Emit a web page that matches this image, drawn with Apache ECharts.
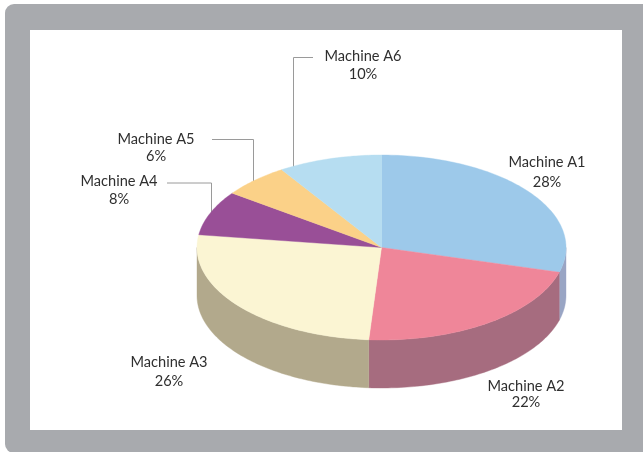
<!DOCTYPE html>
<html>
<head>
<meta charset="utf-8">
<style>html,body{margin:0;padding:0;background:#fff}#c{width:643px;height:452px}</style>
<script src="https://cdn.jsdelivr.net/npm/echarts@6/dist/echarts.min.js"></script>
</head>
<body>
<div id="c"></div>
<script>
// Data
const categories = ['Machine A1', 'Machine A2', 'Machine A3', 'Machine A4', 'Machine A5', 'Machine A6'];
// Percentages printed on the labels
const labelPercents = [28, 22, 26, 8, 6, 10];
// Slice shares as actually drawn in the picture (%), read from the rim positions
const drawnShares = [29.3, 21.8, 26.1, 7.8, 5.9, 9.1];

// Style
const topColors = ['#9DC9EA', '#EF8699', '#FBF5D3', '#994F97', '#FBD188', '#B6DDF1'];
const sideColors = ['#99A5C4', '#A66C7F', '#B2A98C', '#6E3A6C', '#B59560', '#85A0AE'];

// Layout
const pie = { cx: 381.5, cy: 247.5, rx: 184.5, ry: 92.5, depth: 48 };
const labelPlaces = [
  [547, 162, 182], [526, 386, 402], [169, 362, 381],
  [119, 181, 199], [156, 139, 156], [363, 56, 74]
];
const leaders = [
  [[167, 183], [211.5, 183], [211.5, 212]],
  [[212, 139.5], [253.5, 139.5], [253.5, 182]],
  [[313, 57.5], [293.5, 57.5], [293.5, 167]]
];
const labelFont = '14.6px Lato';

const total = drawnShares.reduce((a, b) => a + b, 0);
const starts = [];
drawnShares.reduce((acc, v, i) => { starts[i] = acc; return acc + v; }, 0);

function rim(deg, dy) {
  const t = deg * Math.PI / 180;
  return [pie.cx + pie.rx * Math.sin(t), pie.cy - pie.ry * Math.cos(t) + (dy || 0)];
}
function arcPoints(a, b, dy) {
  const pts = [];
  const n = Math.max(2, Math.ceil(Math.abs(b - a)));
  for (let i = 0; i <= n; i++) pts.push(rim(a + (b - a) * i / n, dy));
  return pts;
}

function renderSlice(params, api) {
  const i = params.dataIndex;
  const a = api.value(0) / total * 360;
  const b = a + api.value(1) / total * 360;
  const children = [];
  const sa = Math.max(a, 90), sb = Math.min(b, 270);
  if (sb > sa) {
    const pts = arcPoints(sa, sb, 0).concat(arcPoints(sb, sa, pie.depth));
    children.push({
      type: 'polygon', shape: { points: pts },
      style: { fill: sideColors[i], stroke: sideColors[i], lineWidth: 0.4 }
    });
  }
  children.push({
    type: 'polygon',
    shape: { points: [[pie.cx, pie.cy]].concat(arcPoints(a, b, 0)) },
    style: { fill: topColors[i], stroke: topColors[i], lineWidth: 0.4 }
  });
  const place = labelPlaces[i];
  children.push({
    type: 'text',
    style: { x: place[0], y: place[1], text: categories[i], fill: '#2f2f2f',
      font: labelFont, textAlign: 'center', textVerticalAlign: 'middle' }
  });
  children.push({
    type: 'text',
    style: { x: place[0], y: place[2], text: labelPercents[i] + '%', fill: '#2f2f2f',
      font: labelFont, textAlign: 'center', textVerticalAlign: 'middle' }
  });
  return { type: 'group', children };
}

const chart = echarts.init(document.getElementById('c'), null, { renderer: 'canvas' });
chart.setOption({
  animation: false,
  backgroundColor: '#ffffff',
  graphic: [
    { type: 'rect', z: 0, silent: true, shape: { x: 5, y: 4, width: 660, height: 449, r: 9 },
      style: { fill: '#A8AAAE' } },
    { type: 'rect', z: 0, silent: true, shape: { x: 30, y: 30, width: 592, height: 400 },
      style: { fill: '#ffffff' } }
  ].concat(leaders.map(p => ({
    type: 'polyline', z: 1, silent: true, shape: { points: p },
    style: { stroke: '#9a9a9a', lineWidth: 1, fill: null }
  }))),
  series: [{
    type: 'custom',
    coordinateSystem: 'none',
    silent: true,
    z: 5,
    clip: false,
    renderItem: renderSlice,
    encode: { value: [0, 1] },
    data: drawnShares.map((v, i) => ({ name: categories[i], value: [starts[i], v] }))
  }]
});
</script>
</body>
</html>
